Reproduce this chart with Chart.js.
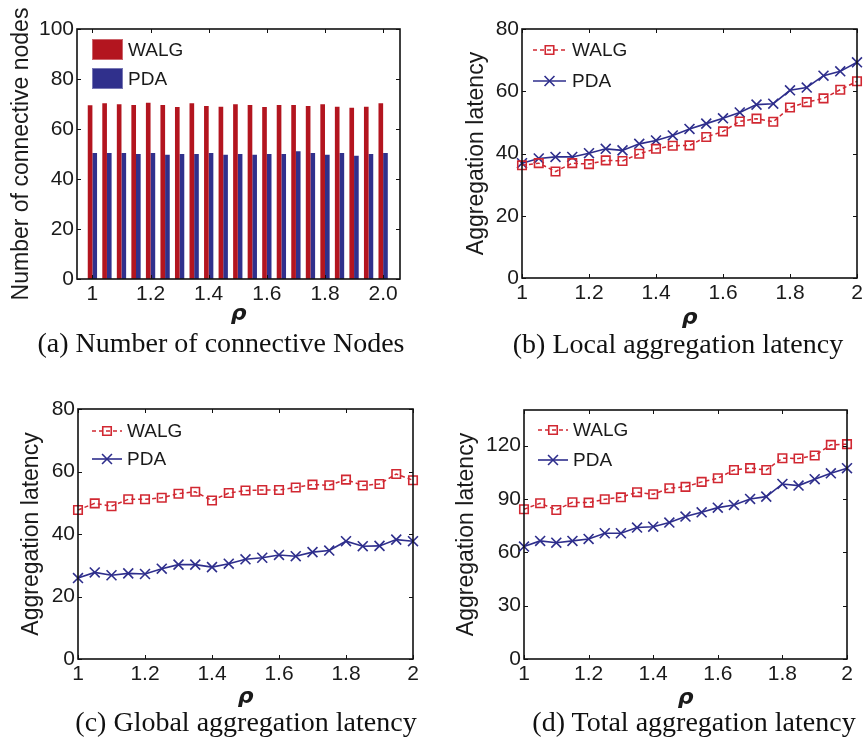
<!DOCTYPE html>
<html>
<head>
<meta charset="utf-8">
<script src="https://cdn.jsdelivr.net/npm/chart.js@4.4.0/dist/chart.umd.min.js"></script>
<style>
  body { margin: 0; background: #fff; width: 867px; height: 743px; overflow: hidden; position: relative; }
  canvas { position: absolute; left: 0; top: 0; }
  .cap { position: absolute; font-family: 'Liberation Serif', serif; font-size: 28px; line-height: 28px;
         white-space: nowrap; transform: translateX(-50%); color: #111; }
</style>
</head>
<body>
<canvas id="ca" width="867" height="743"></canvas>
<canvas id="cb" width="867" height="743"></canvas>
<canvas id="cc" width="867" height="743"></canvas>
<canvas id="cd" width="867" height="743"></canvas>
<div class="cap" style="left:221px;top:329px">(a) Number of connective Nodes</div>
<div class="cap" style="left:678px;top:330px">(b) Local aggregation latency</div>
<div class="cap" style="left:246px;top:708px">(c) Global aggregation latency</div>
<div class="cap" style="left:694px;top:708px">(d) Total aggregation latency</div>
<script>
// values
var rho = [1, 1.05, 1.1, 1.15, 1.2, 1.25, 1.3, 1.35, 1.4, 1.45, 1.5,
           1.55, 1.6, 1.65, 1.7, 1.75, 1.8, 1.85, 1.9, 1.95, 2];

var nodesWALG = [69.5, 70.3, 69.9, 69.6, 70.5, 69.6, 68.8, 70.3, 69.2, 68.9, 69.9,
                 69.6, 68.8, 69.6, 69.6, 69.2, 69.9, 68.9, 68.5, 68.9, 70.3];
var nodesPDA  = [50.4, 50.4, 50.4, 50, 50.4, 49.7, 50, 50, 50.4, 49.7, 50,
                 49.7, 50, 50, 51.1, 50.4, 49.7, 50.4, 49.3, 50, 50.4];

var localWALG = [36.2, 36.9, 34.2, 36.9, 36.6, 37.8, 37.6, 39.9, 41.5, 42.5, 42.6,
                 45.3, 47.1, 50.3, 51.2, 50.2, 54.8, 56.5, 57.7, 60.5, 63.2];
var localPDA  = [36.9, 38.4, 38.9, 38.9, 40.1, 41.5, 41.0, 43.1, 44.2, 45.8, 47.9,
                 49.6, 51.3, 53.2, 55.7, 56.0, 60.3, 61.2, 65.0, 66.4, 69.3];

var globalWALG = [47.7, 49.8, 48.9, 51.1, 51.1, 51.6, 52.9, 53.5, 50.7, 53.1, 53.9,
                  54.1, 54.1, 54.9, 55.8, 55.6, 57.4, 55.5, 56.0, 59.2, 57.2];
var globalPDA  = [25.9, 27.7, 26.8, 27.4, 27.2, 28.9, 30.2, 30.2, 29.4, 30.5, 31.9,
                  32.4, 33.3, 32.9, 34.2, 34.7, 37.7, 36.1, 36.2, 38.2, 37.7];

var totalWALG = [84.2, 87.6, 83.8, 88.1, 87.9, 89.8, 90.9, 93.8, 92.6, 96.0, 96.8,
                 99.6, 101.6, 106.3, 107.3, 106.3, 112.9, 112.7, 114.4, 120.4, 120.8];
var totalPDA  = [63.2, 66.4, 65.4, 66.4, 67.5, 70.7, 70.7, 73.9, 74.4, 76.7, 80.1,
                 82.5, 85.1, 86.6, 90.0, 91.3, 98.4, 97.5, 101.1, 104.4, 107.3];

var xTicks = [1, 1.2, 1.4, 1.6, 1.8, 2];
var xTickLabelsA = ['1', '1.2', '1.4', '1.6', '1.8', '2.0'];
var xTickLabels = ['1', '1.2', '1.4', '1.6', '1.8', '2'];
var nodesTicks = [0, 20, 40, 60, 80, 100];
var latencyTicks = [0, 20, 40, 60, 80];
var totalTicks = [0, 30, 60, 90, 120];

var RED_BAR = '#b3151f', BLUE_BAR = '#30308c';
var RED = '#d12832', BLUE = '#2e2e8c';
var TXT = '#1a1a1a';

Chart.defaults.font.family = "'Liberation Sans', Arial, sans-serif";
Chart.defaults.color = TXT;

function pts(xs, ys) {
  return xs.map(function (x, i) { return { x: x, y: ys[i] }; });
}

// box + inward tick marks on all four sides, like the matlab figure
var framePlugin = {
  id: 'frame',
  afterDraw: function (chart) {
    var a = chart.chartArea, c = chart.ctx;
    var xs = chart.scales.x, ys = chart.scales.y;
    c.save();
    c.strokeStyle = '#111';
    c.lineWidth = 1;
    c.beginPath();
    xs.ticks.forEach(function (t) {
      var p = Math.round(xs.getPixelForValue(t.value)) + 0.5;
      c.moveTo(p, a.bottom); c.lineTo(p, a.bottom - 4);
      c.moveTo(p, a.top); c.lineTo(p, a.top + 4);
    });
    ys.ticks.forEach(function (t) {
      var p = Math.round(ys.getPixelForValue(t.value)) + 0.5;
      c.moveTo(a.left, p); c.lineTo(a.left + 4, p);
      c.moveTo(a.right, p); c.lineTo(a.right - 4, p);
    });
    c.stroke();
    c.lineWidth = 1.6;
    c.strokeRect(a.left, a.top, a.right - a.left, a.bottom - a.top);
    c.restore();
  }
};

// legend sitting inside the plot, top left
var legendPlugin = {
  id: 'innerLegend',
  afterDraw: function (chart, args, o) {
    var a = chart.chartArea, c = chart.ctx;
    c.save();
    c.font = "19px 'Liberation Sans', Arial, sans-serif";
    c.textBaseline = 'middle';
    chart.data.datasets.forEach(function (ds, i) {
      var x = a.left + o.left, y = a.top + o.top + i * o.gap;
      if (o.kind === 'box') {
        c.fillStyle = ds.backgroundColor;
        c.fillRect(x, y - 10.5, o.len, 21);
        c.strokeStyle = 'rgba(255,255,255,0.35)';
        c.lineWidth = 1;
        c.strokeRect(x + 0.5, y - 10, o.len - 1, 20);
      } else {
        c.strokeStyle = ds.borderColor;
        c.lineWidth = ds.borderWidth;
        c.setLineDash(ds.borderDash || []);
        c.beginPath(); c.moveTo(x, y); c.lineTo(x + o.len, y); c.stroke();
        c.setLineDash([]);
        c.fillStyle = 'rgba(0,0,0,0)';
        c.lineWidth = ds.pointBorderWidth;
        Chart.helpers.drawPoint(c, { pointStyle: ds.pointStyle, radius: ds.pointRadius, rotation: 0, borderWidth: ds.pointBorderWidth }, x + o.len / 2, y);
      }
      c.fillStyle = TXT;
      c.fillText(ds.label, x + o.len + o.textGap, y + 1);
    });
    c.restore();
  }
};

// g: plot box in page pixels, ytx / xty: centres of the axis titles
function makeChart(id, type, datasets, g, yMax, yTicks, xMin, xMax, xLabels, ytitle, legend) {
  var yTitleSize = 23, xTitleSize = 22;
  var yBoxLeft = g.ytx - yTitleSize / 2;
  var xBoxBottom = g.xty + xTitleSize / 2;
  return new Chart(document.getElementById(id), {
    type: type,
    data: { datasets: datasets },
    plugins: [framePlugin, legendPlugin],
    options: {
      responsive: false,
      animation: false,
      layout: { padding: { left: yBoxLeft, top: g.T, right: 867 - g.R, bottom: 743 - xBoxBottom } },
      plugins: { legend: { display: false }, tooltip: { enabled: false }, innerLegend: legend },
      scales: {
        x: {
          type: 'linear', min: xMin, max: xMax, offset: false,
          grid: { display: false, drawTicks: false, offset: false },
          border: { display: false },
          afterBuildTicks: function (s) { s.ticks = xTicks.map(function (v) { return { value: v }; }); },
          afterFit: function (s) { s.height = xBoxBottom - g.B; },
          ticks: {
            padding: 3, maxRotation: 0, autoSkip: false, font: { size: 21 },
            callback: function (v, i) { return xLabels[i]; }
          },
          title: {
            display: true, text: 'ρ', padding: 0,
            font: { family: "'DejaVu Sans', sans-serif", style: 'italic', weight: 'bold', size: xTitleSize, lineHeight: 1 }
          }
        },
        y: {
          min: 0, max: yMax,
          grid: { display: false, drawTicks: false },
          border: { display: false },
          afterBuildTicks: function (s) { s.ticks = yTicks.map(function (v) { return { value: v }; }); },
          afterFit: function (s) { s.width = g.L - yBoxLeft; },
          ticks: { padding: 3, font: { size: 21 } },
          title: { display: true, text: ytitle, padding: 0, font: { size: yTitleSize, lineHeight: 1 } }
        }
      }
    }
  });
}

function lineSets(walg, pda) {
  return [
    { label: 'WALG', data: pts(rho, walg), borderColor: RED, borderWidth: 1.5, borderDash: [4, 3],
      pointStyle: 'rect', pointRadius: 6, pointBorderWidth: 1.6, pointBorderColor: RED,
      pointBackgroundColor: 'rgba(0,0,0,0)', clip: false, tension: 0 },
    { label: 'PDA', data: pts(rho, pda), borderColor: BLUE, borderWidth: 1.6,
      pointStyle: 'crossRot', pointRadius: 7, pointBorderWidth: 1.6, pointBorderColor: BLUE,
      pointBackgroundColor: BLUE, clip: false, tension: 0 }
  ];
}

makeChart('ca', 'bar', [
  { label: 'WALG', data: pts(rho, nodesWALG), backgroundColor: RED_BAR, categoryPercentage: 0.64, barPercentage: 1 },
  { label: 'PDA', data: pts(rho, nodesPDA), backgroundColor: BLUE_BAR, categoryPercentage: 0.64, barPercentage: 1 }
], { L: 77, R: 400, T: 29, B: 279, ytx: 22, xty: 314 }, 100, nodesTicks, 0.947, 2.058, xTickLabelsA,
  'Number of connective nodes', { kind: 'box', left: 15, top: 20.5, gap: 29, len: 31, textGap: 5 });

makeChart('cb', 'line', lineSets(localWALG, localPDA),
  { L: 522, R: 857, T: 29, B: 278, ytx: 477, xty: 318 }, 80, latencyTicks, 1, 2, xTickLabels,
  'Aggregation latency', { kind: 'line', left: 11, top: 21, gap: 31, len: 33, textGap: 6 });

makeChart('cc', 'line', lineSets(globalWALG, globalPDA),
  { L: 78, R: 413, T: 409, B: 659, ytx: 32, xty: 697 }, 80, latencyTicks, 1, 2, xTickLabels,
  'Aggregation latency', { kind: 'line', left: 14, top: 22, gap: 28, len: 30, textGap: 5 });

makeChart('cd', 'line', lineSets(totalWALG, totalPDA),
  { L: 524, R: 847, T: 410, B: 659, ytx: 467, xty: 698 }, 140, totalTicks, 1, 2, xTickLabels,
  'Aggregation latency', { kind: 'line', left: 14, top: 20, gap: 30, len: 30, textGap: 5 });
</script>
</body>
</html>
